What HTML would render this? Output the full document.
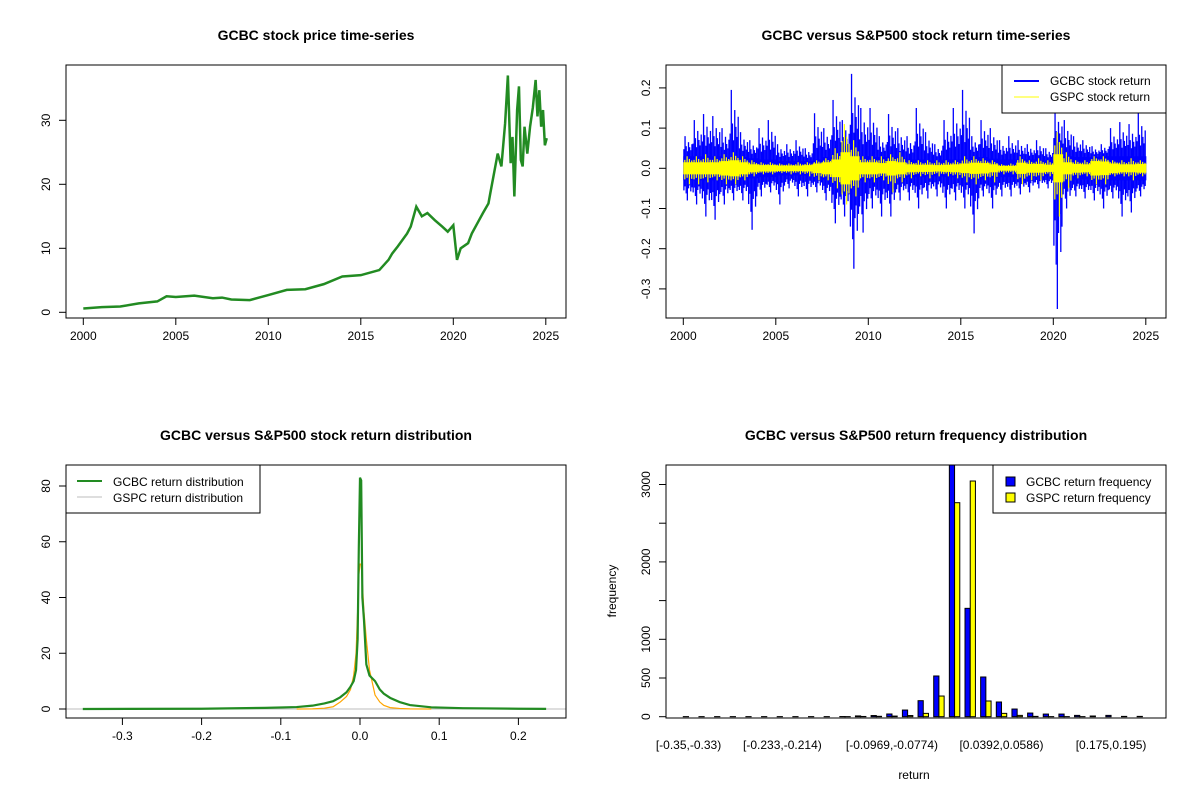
<!DOCTYPE html>
<html><head><meta charset="utf-8"><style>
html,body{margin:0;padding:0;background:#fff}
svg text{font-family:"Liberation Sans",Arial,sans-serif;fill:#000}
</style></head><body>
<svg id="c" width="1200" height="800" viewBox="0 0 1200 800" xmlns="http://www.w3.org/2000/svg">
<rect width="1200" height="800" fill="#fff"/>
<text x="316" y="40" text-anchor="middle" font-size="14" font-weight="bold">GCBC stock price time-series</text>
<text x="916" y="40" text-anchor="middle" font-size="14" font-weight="bold">GCBC versus S&amp;P500 stock return time-series</text>
<text x="316" y="440" text-anchor="middle" font-size="14" font-weight="bold">GCBC versus S&amp;P500 stock return distribution</text>
<text x="916" y="440" text-anchor="middle" font-size="14" font-weight="bold">GCBC versus S&amp;P500 return frequency distribution</text>
<text x="914" y="779" text-anchor="middle" font-size="12">return</text>
<text transform="translate(616,591) rotate(-90)" text-anchor="middle" font-size="12">frequency</text>
<g id="g1"></g>
<g id="g2"></g>
<g id="g3"></g>
<g id="g4"></g>
</svg>
<script>
// ---- Panel 1 data ----
const priceYears=[2000,2001,2002,2003,2004,2004.5,2005,2006,2007,2007.5,2008,2009,2009.5,2010,2011,2012,2013,2014,2015,2016,2016.5,2016.7,2017,2017.5,2017.7,2018,2018.3,2018.6,2019,2019.4,2019.7,2020,2020.2,2020.4,2020.8,2021,2021.3,2021.6,2021.9,2022,2022.2,2022.4,2022.6,2022.8,2022.95,2023.1,2023.2,2023.3,2023.45,2023.55,2023.65,2023.75,2023.85,2024,2024.15,2024.3,2024.45,2024.55,2024.65,2024.75,2024.85,2024.95,2025.05];
const priceValues=[0.6,0.8,0.9,1.4,1.7,2.5,2.4,2.6,2.2,2.3,2.0,1.9,2.3,2.7,3.5,3.6,4.4,5.6,5.8,6.6,8.2,9.2,10.3,12.3,13.4,16.5,15,15.5,14.4,13.4,12.6,13.6,8.2,10,10.8,12.3,13.9,15.5,17,18.6,21.7,24.8,22.8,29.5,37,23.3,27.4,18.1,31.6,35.3,23.8,22.8,29,24.8,29,32,36.3,30.6,34.7,29,31.6,26.1,27.2];
const yearTicks=[2000,2005,2010,2015,2020,2025];
const priceTicks=[0,10,20,30];
// ---- Panel 2 data (half-year bins) ----
const retYears=[2000,2000.5,2001,2001.5,2002,2002.5,2003,2003.5,2004,2004.5,2005,2005.5,2006,2006.5,2007,2007.5,2008,2008.5,2009,2009.5,2010,2010.5,2011,2011.5,2012,2012.5,2013,2013.5,2014,2014.5,2015,2015.5,2016,2016.5,2017,2017.5,2018,2018.5,2019,2019.5,2020,2020.5,2021,2021.5,2022,2022.5,2023,2023.5,2024,2024.5];
const gcbcHi=[0.08,0.12,0.135,0.13,0.10,0.195,0.09,0.07,0.10,0.12,0.06,0.06,0.07,0.05,0.137,0.10,0.17,0.12,0.235,0.15,0.15,0.08,0.135,0.10,0.08,0.15,0.09,0.06,0.12,0.15,0.195,0.08,0.12,0.10,0.07,0.08,0.07,0.06,0.07,0.05,0.15,0.12,0.08,0.07,0.055,0.06,0.10,0.115,0.11,0.137];
const gcbcLo=[-0.08,-0.09,-0.12,-0.128,-0.09,-0.08,-0.08,-0.153,-0.07,-0.06,-0.09,-0.05,-0.07,-0.07,-0.06,-0.08,-0.137,-0.12,-0.25,-0.16,-0.10,-0.12,-0.12,-0.08,-0.08,-0.10,-0.075,-0.07,-0.10,-0.08,-0.10,-0.162,-0.07,-0.10,-0.07,-0.07,-0.065,-0.06,-0.05,-0.05,-0.35,-0.10,-0.07,-0.075,-0.08,-0.10,-0.075,-0.12,-0.11,-0.07];
const gcbcBand=[0.03,0.03,0.03,0.03,0.028,0.028,0.028,0.025,0.022,0.022,0.018,0.018,0.018,0.018,0.022,0.028,0.035,0.035,0.04,0.03,0.028,0.028,0.028,0.024,0.022,0.022,0.02,0.02,0.022,0.022,0.022,0.028,0.028,0.024,0.022,0.022,0.022,0.022,0.02,0.02,0.035,0.03,0.028,0.028,0.028,0.03,0.03,0.03,0.03,0.03];
const gspcHi=[0.03,0.03,0.035,0.03,0.035,0.04,0.03,0.02,0.015,0.015,0.012,0.012,0.015,0.015,0.02,0.025,0.05,0.11,0.07,0.03,0.03,0.03,0.035,0.04,0.02,0.02,0.02,0.02,0.02,0.02,0.03,0.03,0.025,0.02,0.01,0.012,0.03,0.02,0.025,0.02,0.09,0.04,0.02,0.02,0.03,0.03,0.02,0.02,0.025,0.02];
const gspcLo=[-0.04,-0.04,-0.035,-0.03,-0.04,-0.04,-0.03,-0.02,-0.015,-0.015,-0.012,-0.015,-0.015,-0.02,-0.03,-0.03,-0.05,-0.09,-0.07,-0.035,-0.035,-0.03,-0.06,-0.035,-0.025,-0.02,-0.025,-0.02,-0.02,-0.025,-0.035,-0.04,-0.03,-0.035,-0.015,-0.015,-0.04,-0.03,-0.03,-0.02,-0.12,-0.05,-0.025,-0.02,-0.04,-0.04,-0.02,-0.02,-0.03,-0.02];
const gspcBand=[0.015,0.015,0.015,0.015,0.018,0.02,0.015,0.01,0.008,0.008,0.007,0.007,0.007,0.008,0.012,0.015,0.022,0.04,0.03,0.015,0.015,0.013,0.018,0.015,0.01,0.009,0.009,0.008,0.009,0.01,0.012,0.014,0.013,0.01,0.006,0.006,0.014,0.011,0.011,0.009,0.035,0.015,0.011,0.01,0.018,0.017,0.012,0.01,0.01,0.011];
const retTicks=[-0.3,-0.2,-0.1,0,0.1,0.2];
const retTickLabels=["-0.3","-0.2","-0.1","0.0","0.1","0.2"];
// ---- Panel 3 data ----
const densX=[-0.35,-0.2,-0.12,-0.08,-0.06,-0.045,-0.034,-0.025,-0.017,-0.012,-0.008,-0.005,-0.003,-0.0015,0,0.0015,0.003,0.005,0.008,0.012,0.019,0.025,0.03,0.038,0.05,0.063,0.09,0.13,0.2,0.235];
const gcbcDens=[0,0.1,0.4,0.7,1.2,2,2.8,4.2,6,8,10,14,25,58,83,82,40,32,16,12,10,7,5.5,4,2.5,1.4,0.6,0.3,0.1,0.05];
const gspcDens=[0,0,0,0,0.05,0.3,0.8,2.5,4.5,7,12,20,35,48,52,52,45,35,25,14,5,2.5,1.3,0.5,0.2,0.05,0,0,0,0];
const densXTicks=[-0.3,-0.2,-0.1,0,0.1,0.2];
const densYTicks=[0,20,40,60,80];
// ---- Panel 4 data ----
const binLabels=["[-0.35,-0.33)","[-0.233,-0.214)","[-0.0969,-0.0774)","[0.0392,0.0586)","[0.175,0.195)"];
const binLabelIdx=[0,6,13,20,27];
const gcbcFreq=[1,1,1,1,1,1,1,1,1,1,2,10,15,35,86,207,526,3400,1400,513,190,99,47,34,34,17,9,17,4,4];
const gspcFreq=[0,0,0,0,0,0,0,0,0,0,1,3,5,8,15,43,267,2765,3045,203,43,17,4,1,1,1,0,0,0,0];
const freqTicks=[0,500,1000,1500,2000,2500,3000];
const freqTickLabels=["0","500","1000","","2000","","3000"];

const NS="http://www.w3.org/2000/svg";
function mk(parent,tag,attrs){const e=document.createElementNS(NS,tag);for(const k in attrs)e.setAttribute(k,attrs[k]);parent.appendChild(e);return e;}
function txt(parent,x,y,s,anchor,rot){const e=mk(parent,'text',{x:x,y:y,'font-size':12,'text-anchor':anchor||'middle'});if(rot)e.setAttribute('transform','rotate(-90 '+x+' '+y+')');e.textContent=s;return e;}
function box(g,x0,y0,x1,y1){const r=mk(g,'rect',{x:x0,y:y0,width:x1-x0,height:y1-y0,fill:'none',stroke:'#000','stroke-width':1});}
function xTicks(g,vals,labels,sx,yb){vals.forEach((v,i)=>{const l=mk(g,'line',{x1:sx(v),x2:sx(v),y1:yb,y2:yb+7,stroke:'#000'});const t=txt(g,sx(v),yb+22,labels[i]);});}
function yTicks(g,vals,labels,sy,xl){vals.forEach((v,i)=>{const l=mk(g,'line',{x1:xl-7,x2:xl,y1:sy(v),y2:sy(v),stroke:'#000'});if(labels[i]!==""){const t=txt(g,xl-16,sy(v),labels[i],'middle',true);}});}

// Panel 1
(function(){const g=document.getElementById('g1');
const sx=y=>83.3+(y-2000)*18.5, sy=v=>312.3-v*6.4;
const p=mk(g,'polyline',{points:priceYears.map((y,i)=>sx(y)+','+sy(priceValues[i])).join(' '),fill:'none',stroke:'#228B22','stroke-width':2.5,'stroke-linejoin':'miter'});

box(g,66,65,566,318);
xTicks(g,yearTicks,yearTicks.map(String),sx,318);
yTicks(g,priceTicks,priceTicks.map(String),sy,66);})();

// Panel 2
(function(){const g=document.getElementById('g2');
const sx=y=>683.3+(y-2000)*18.5, sy=v=>168.3-v*402;
const hiPat=[0.35,1,0.5,0.25,0.7,0.45,0.3,0.6];
const loPat=[0.5,0.3,0.65,1,0.4,0.25,0.55,0.35];
const cg=mk(g,'g',{});
retYears.forEach((y,i)=>{
 const r=mk(cg,'rect',{x:sx(y),y:sy(gcbcBand[i]),width:9.8,height:sy(-gcbcBand[i])-sy(gcbcBand[i]),fill:'#0000FF'});
 
 hiPat.forEach((f,k)=>{
  const xx=sx(y)+0.6+k*1.15;
  const h=gcbcBand[i]+(gcbcHi[i]-gcbcBand[i])*f, l=gcbcBand[i]+(-gcbcLo[i]-gcbcBand[i])*loPat[k];
  const a=mk(cg,'line',{x1:xx,x2:xx,y1:sy(h),y2:sy(-l),stroke:'#0000FF','stroke-width':1.3});
  
 });
});
const sg=mk(g,'g',{});
retYears.forEach((y,i)=>{
 const r=mk(sg,'rect',{x:sx(y),y:sy(gspcBand[i]),width:9.8,height:sy(-gspcBand[i])-sy(gspcBand[i]),fill:'#FFFF00'});
 
 [0.4,1,0.55,0.3].forEach((f,k)=>{
  const xx=sx(y)+1.5+k*2.3;
  const h=gspcBand[i]+(gspcHi[i]-gspcBand[i])*f, l=gspcBand[i]+(-gspcLo[i]-gspcBand[i])*[0.5,0.35,1,0.45][k];
  const a=mk(sg,'line',{x1:xx,x2:xx,y1:sy(h),y2:sy(-l),stroke:'#FFFF00','stroke-width':1.2});
  
 });
});
const lg=mk(g,'g',{});
mk(lg,'rect',{x:1002,y:65,width:164,height:48,fill:'#fff',stroke:'#000'});
mk(lg,'line',{x1:1014,x2:1039,y1:81,y2:81,stroke:'#0000FF','stroke-width':2});
mk(lg,'line',{x1:1014,x2:1039,y1:97,y2:97,stroke:'#FFFF00','stroke-width':1});
let t=txt(lg,1050,85,'GCBC stock return','start');
t=txt(lg,1050,101,'GSPC stock return','start');
box(g,666,65,1166,318);
xTicks(g,yearTicks,yearTicks.map(String),sx,318);
yTicks(g,retTicks,retTickLabels,sy,666);})();

// Panel 3
(function(){const g=document.getElementById('g3');
const sx=v=>360+v*792, sy=v=>709-v*2.7875;
const base=mk(g,'line',{x1:66,x2:566,y1:sy(0),y2:sy(0),stroke:'#BEBEBE'});
const o=mk(g,'polyline',{points:densX.map((x,i)=>gspcDens[i]>0||(gspcDens[i+1]>0)||(gspcDens[i-1]>0)?sx(x)+','+sy(gspcDens[i]):null).filter(s=>s).join(' '),fill:'none',stroke:'#FFA500','stroke-width':1.2});

const gl=mk(g,'polyline',{points:densX.map((x,i)=>sx(x)+','+sy(gcbcDens[i])).join(' '),fill:'none',stroke:'#228B22','stroke-width':2.2});

const lg=mk(g,'g',{});
mk(lg,'rect',{x:66,y:465,width:194,height:48,fill:'#fff',stroke:'#000'});
mk(lg,'line',{x1:77,x2:102,y1:481,y2:481,stroke:'#228B22','stroke-width':2});
mk(lg,'line',{x1:77,x2:102,y1:497,y2:497,stroke:'#BEBEBE','stroke-width':1});
let t=txt(lg,113,486,'GCBC return distribution','start');
t=txt(lg,113,502,'GSPC return distribution','start');
box(g,66,465,566,718);
xTicks(g,densXTicks,["-0.3","-0.2","-0.1","0.0","0.1","0.2"],sx,718);
yTicks(g,densYTicks,densYTicks.map(String),sy,66);})();

// Panel 4
(function(){const g=document.getElementById('g4');
const unit=15.65/3, x0=683.3;
const sx=i=>x0+i*15.65, sy=v=>716.7-v*0.0774;
mk(g,'clipPath',{id:'cp4'}).appendChild(document.createElementNS(NS,'rect'));
const cr=g.querySelector('#cp4 rect');cr.setAttribute('x',666);cr.setAttribute('y',465);cr.setAttribute('width',500);cr.setAttribute('height',253);
const bg=mk(g,'g',{'clip-path':'url(#cp4)'});
gcbcFreq.forEach((v,i)=>{
 const b=mk(bg,'rect',{x:sx(i),y:sy(v),width:unit,height:sy(0)-sy(v),fill:'#0000FF',stroke:'#000','stroke-width':1});
 
 const w=gspcFreq[i];
 const c=mk(bg,'rect',{x:sx(i)+unit,y:sy(w),width:unit,height:sy(0)-sy(w),fill:'#FFFF00',stroke:'#000','stroke-width':1});
 
});
binLabelIdx.forEach((k,j)=>{const t=txt(g,sx(k)+unit,749,binLabels[j]);});
const lg=mk(g,'g',{});
mk(lg,'rect',{x:993,y:465,width:173,height:48,fill:'#fff',stroke:'#000'});
mk(lg,'rect',{x:1006,y:477,width:9,height:9,fill:'#0000FF',stroke:'#000'});
mk(lg,'rect',{x:1006,y:493,width:9,height:9,fill:'#FFFF00',stroke:'#000'});
let t=txt(lg,1026,486,'GCBC return frequency','start');
t=txt(lg,1026,502,'GSPC return frequency','start');
box(g,666,465,1166,718);
yTicks(g,freqTicks,freqTickLabels,sy,666);})();
</script>
</body></html>
